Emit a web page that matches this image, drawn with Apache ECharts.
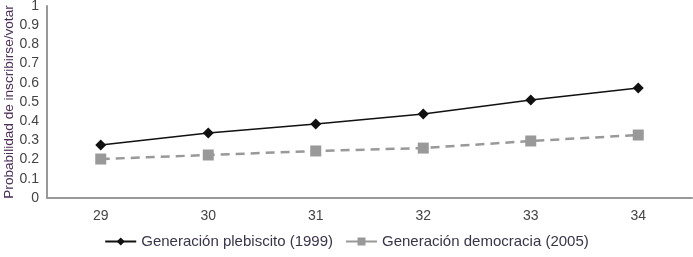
<!DOCTYPE html>
<html><head><meta charset="utf-8">
<script src="https://cdn.jsdelivr.net/npm/echarts@6/dist/echarts.min.js"></script>
<style>html,body{margin:0;padding:0;background:#fff}#c{width:693px;height:257px}</style>
</head><body><div id="c"></div>
<script>
const categories = ['29','30','31','32','33','34'];
const plebiscito = [0.276, 0.339, 0.385, 0.437, 0.51, 0.573];
const democracia = [0.203, 0.224, 0.245, 0.26, 0.297, 0.328];
const yTicks = [0,0.1,0.2,0.3,0.4,0.5,0.6,0.7,0.8,0.9,1];
const chart = echarts.init(document.getElementById('c'));
chart.setOption({
  animation:false,
  grid:{left:47,right:1,top:6,bottom:59,containLabel:false,outerBoundsMode:'none'},
  legend:{bottom:3,left:'center',itemWidth:31,itemHeight:10,itemGap:12,
    textStyle:{fontFamily:'Liberation Sans, Arial',fontSize:15,color:'#3a3448'},
    data:[{name:'Generación plebiscito (1999)'},
          {name:'Generación democracia (2005)',lineStyle:{type:'solid'}}]},
  xAxis:{type:'category',data:categories,boundaryGap:true,
    axisLine:{lineStyle:{color:'#999',width:2}},axisTick:{show:false},
    axisLabel:{color:'#444',fontSize:14,fontFamily:'Liberation Sans, Arial',margin:11}},
  yAxis:{type:'value',min:0,max:1,interval:0.1,
    name:'Probabilidad de inscribirse/votar',nameLocation:'middle',nameGap:31,nameRotate:90,
    nameMoveOverlap:false,
    nameTextStyle:{color:'#4a2d55',fontSize:13.6,fontFamily:'Liberation Sans, Arial'},
    axisLine:{show:true,lineStyle:{color:'#999',width:2}},axisTick:{show:false},splitLine:{show:false},
    axisLabel:{color:'#444',fontSize:14,fontFamily:'Liberation Sans, Arial',margin:8,
      formatter:v=>{const t=yTicks.find(x=>Math.abs(x-v)<1e-9);return t===undefined?'':String(t);}}},
  series:[
    {name:'Generación plebiscito (1999)',type:'line',data:plebiscito,symbol:'diamond',symbolSize:11,
     lineStyle:{color:'#111',width:1.5},itemStyle:{color:'#111'}},
    {name:'Generación democracia (2005)',type:'line',data:democracia,symbol:'rect',symbolSize:11,
     lineStyle:{color:'#999',width:2.5,type:[9,6]},itemStyle:{color:'#999'}}
  ]
});
</script></body></html>
